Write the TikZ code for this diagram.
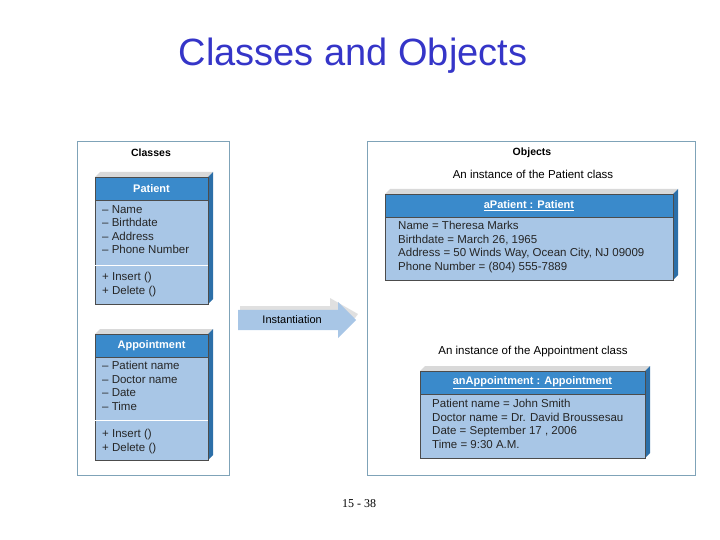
\documentclass[tikz,border=0pt]{standalone}
\usepackage{fontspec}
\setmainfont{Liberation Sans}
\newfontfamily\serifff{Liberation Serif}
\usetikzlibrary{shapes.arrows}
\definecolor{hdr}{HTML}{3A8ACB}
\definecolor{bdy}{HTML}{A8C6E6}
\definecolor{side}{HTML}{2C6FA8}
\definecolor{panel}{HTML}{7FA3B8}
\definecolor{ttl}{HTML}{3535C8}
\tikzset{
 panelbox/.style={draw=panel,line width=0.8pt},
 hdrbox/.style={fill=hdr,draw=black!70,line width=0.5pt},
 bdybox/.style={fill=bdy,draw=black!70,line width=0.5pt},
 topface/.style={fill=black!15},
 sideface/.style={fill=side},
 txt/.style={font=\fontsize{11.5}{13.5}\selectfont,anchor=north west,align=left,inner sep=0pt,text=black!85},
 htxt/.style={font=\bfseries\fontsize{11}{13}\selectfont,text=white},
 lbl/.style={font=\fontsize{11.5}{13}\selectfont},
}
\newcommand{\umlbox}[8]{%
 \fill[topface] (#2,#3) -- (#2+5,#3-5) -- (#4+5,#3-5) -- (#4,#3) -- cycle;
 \fill[sideface] (#4,#3) -- (#4+5,#3-5) -- (#4+5,#7-5) -- (#4,#7) -- cycle;
 \draw[hdrbox] (#2,#3) rectangle (#4,#5);
 \draw[bdybox] (#2,#5) rectangle (#4,#7);
 \node[htxt] (#1) at ({(#2+#4)/2},{(#3+#5)/2}) {#8};
}
\begin{document}
\begin{tikzpicture}[x=1pt,y=-1pt]
\useasboundingbox (0,0) rectangle (720,540);
\node[font=\fontsize{38}{44}\selectfont,text=ttl] (title) at (353,56) {Classes and Objects};
\draw[panelbox] (77,141) rectangle (229,475);
\draw[panelbox] (367,141) rectangle (695,475);
\node[font=\bfseries\fontsize{10.5}{12}\selectfont] (cl) at (151,153) {Classes};
\node[font=\bfseries\fontsize{10.5}{12}\selectfont] (ob) at (532,153) {Objects};
% Patient
\umlbox{pat}{95}{177}{208}{200}{0}{304}{Patient}
\draw[white,line width=0.8pt] (95,265) -- (208,265);
\node[txt] (pa) at (102,205) {– Name\\– Birthdate\\– Address\\– Phone Number};
\node[txt] (pm) at (102,272) {+ Insert ()\\+ Delete ()};
% Appointment
\umlbox{app}{95}{334}{208}{357}{0}{460}{Appointment}
\draw[white,line width=0.8pt] (95,420) -- (208,420);
\node[txt] (aa) at (102,361) {– Patient name\\– Doctor name\\– Date\\– Time};
\node[txt] (am) at (102,429) {+ Insert ()\\+ Delete ()};
% arrow
\fill[black!12] (240,306) -- (330,306) -- (330,298) -- (358,314) -- (355,318) -- (240,312) -- cycle;
\node[single arrow,fill=bdy,minimum height=118pt,minimum width=36pt,single arrow head extend=4pt,inner sep=1pt,anchor=west,font=\fontsize{11}{13}\selectfont] (arr) at (238,320) {Instantiation\hspace{30pt}};
% aPatient
\node[lbl] (ip) at (533,174) {An instance of the Patient class};
\umlbox{ap}{385}{194}{673}{217}{0}{280}{\underline{aPatient : Patient}}
\node[txt] (apt) at (398,221) {Name = Theresa Marks\\Birthdate = March 26, 1965\\Address = 50 Winds Way, Ocean City, NJ 09009\\Phone Number = (804) 555-7889};
% anAppointment
\node[lbl] (ia) at (533,352) {An instance of the Appointment class};
\umlbox{aa2}{420}{371}{645}{394}{0}{458}{\underline{anAppointment : Appointment}}
\node[txt] (aat) at (432,399) {Patient name = John Smith\\Doctor name = Dr. David Broussesau\\Date = September 17 , 2006\\Time = 9:30 A.M.};
\node[font=\serifff\fontsize{12}{14}\selectfont] (pg) at (359,504) {15 - 38};
\end{tikzpicture}
\end{document}
